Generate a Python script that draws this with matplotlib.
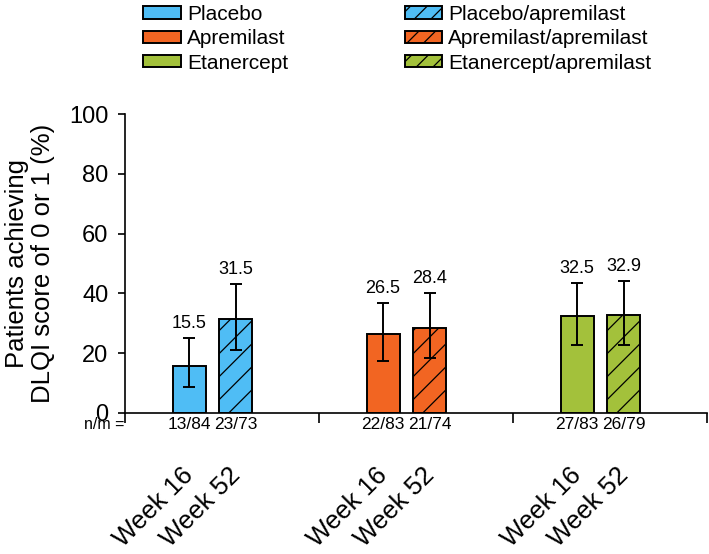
import numpy as np
import matplotlib
matplotlib.use("Agg")
from matplotlib import pyplot as plt
from matplotlib.patches import Patch
from matplotlib.collections import LineCollection
from matplotlib.transforms import IdentityTransform

plt.rcParams['font.family'] = ['Liberation Sans', 'DejaVu Sans']
plt.rcParams['hatch.linewidth'] = 0.9

# data
groups = ["Placebo", "Apremilast", "Etanercept"]
week16 = [15.5, 26.5, 32.5]
week52 = [31.5, 28.4, 32.9]
w16_lo = [8.6, 17.4, 22.7]
w16_hi = [25.0, 36.9, 43.3]
w52_lo = [21.1, 18.4, 22.7]
w52_hi = [43.2, 40.0, 44.1]
nm16 = ["13/84", "22/83", "27/83"]
nm52 = ["23/73", "21/74", "26/79"]
legend16 = ["Placebo", "Apremilast", "Etanercept"]
legend52 = ["Placebo/apremilast", "Apremilast/apremilast", "Etanercept/apremilast"]
colors = ["#4FBDF5", "#F26522", "#A3C13B"]

fig = plt.figure(figsize=(7.09, 5.54), dpi=100)
ax = fig.add_axes([125/709, 1-412.7/554, (707-125)/709, (412.7-114.3)/554])

x = np.arange(len(groups))
x16 = x + 0.33
x52 = x + 0.57
w = 0.17

v16 = np.array(week16)
v52 = np.array(week52)
err16 = [v16 - np.array(w16_lo), np.array(w16_hi) - v16]
err52 = [v52 - np.array(w52_lo), np.array(w52_hi) - v52]

ax.set_xlim(0, 3)
ax.set_ylim(0, 100)

ax.bar(x16, v16, w, color=colors, edgecolor="black", linewidth=1.4, zorder=2)
bars52 = ax.bar(x52, v52, w, color=colors, edgecolor="black", linewidth=1.4, zorder=2)

# diagonal hatch drawn by hand (spacing between the '/' and '//' presets)
step = 23
for r in bars52:
    (px0, py0), (px1, py1) = ax.transData.transform([[r.get_x(), 0], [r.get_x() + r.get_width(), r.get_height()]])
    segs = []
    for c in np.arange(py0 - px1 - step, py1 - px0 + step, step):
        segs.append([(px0 - 5, px0 - 5 + c), (px1 + 5, px1 + 5 + c)])
    lc = LineCollection(segs, colors="black", linewidths=0.9, transform=IdentityTransform(), zorder=2.5)
    ax.add_collection(lc, autolim=False)
    lc.set_clip_path(r)

ax.errorbar(x16, v16, yerr=err16, fmt="none", ecolor="black", elinewidth=1.4, capsize=4, capthick=1.4, zorder=3)
ax.errorbar(x52, v52, yerr=err52, fmt="none", ecolor="black", elinewidth=1.4, capsize=4, capthick=1.4, zorder=3)

for xs, hi, vals in [(x16, w16_hi, week16), (x52, w52_hi, week52)]:
    for xi, h, v in zip(xs, hi, vals):
        ax.annotate("%.1f" % v, (xi, h), xytext=(0, 6), textcoords="offset pixels",
                    ha="center", va="bottom", fontsize=13)

for xs, labs, wk in [(x16, nm16, "Week 16"), (x52, nm52, "Week 52")]:
    for xi, lab in zip(xs, labs):
        ax.annotate(lab, (xi, 0), xycoords=("data", "axes fraction"), xytext=(0, -12),
                    textcoords="offset pixels", ha="center", va="center", fontsize=12.5)
        ax.annotate(wk, (xi, 0), xycoords=("data", "axes fraction"), xytext=(9, -50),
                    textcoords="offset pixels", ha="right", va="top", rotation=45, fontsize=18.5)

ax.annotate("n/m =", (0, 0), xycoords="axes fraction", xytext=(-1, -12),
            textcoords="offset pixels", ha="right", va="center", fontsize=11.5)

ax.set_xticks([0, 1, 2, 3])
ax.set_xticklabels([])
ax.set_yticks(np.arange(0, 101, 20))
ax.tick_params(axis="y", labelsize=17, length=5, width=1.2, pad=7)
ax.tick_params(axis="x", length=7, width=1.2)
for s in ["top", "right"]:
    ax.spines[s].set_visible(False)
for s in ["left", "bottom"]:
    ax.spines[s].set_linewidth(1.2)
ax.set_ylabel("Patients achieving\nDLQI score of 0 or 1 (%)", fontsize=18.5, labelpad=10, linespacing=1.1)

handles = [Patch(facecolor=c, edgecolor="black", linewidth=1.4) for c in colors]
handles += [Patch(facecolor=c, edgecolor="black", linewidth=1.4, hatch="//") for c in colors]
fig.legend(handles, legend16 + legend52, ncol=2, loc="upper left", bbox_to_anchor=(141/709, 1 - 3/554),
           frameon=False, fontsize=15, handlelength=1.8, handleheight=0.55, handletextpad=0.3,
           columnspacing=5.6, labelspacing=0.25, borderpad=0.1, borderaxespad=0)

fig.savefig("out.png", dpi=100)
